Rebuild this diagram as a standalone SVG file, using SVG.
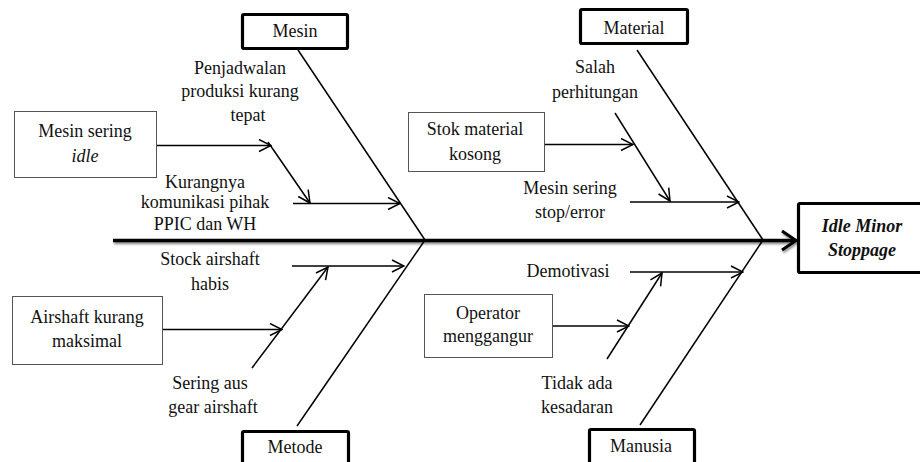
<svg xmlns="http://www.w3.org/2000/svg" width="920" height="462" viewBox="0 0 920 462">
<defs>
<style>
text{font-family:"Liberation Serif","Times New Roman",serif;font-size:18px;fill:#111;text-anchor:middle}
.cat{fill:#fff;stroke:#000;stroke-width:3.2}
.cause{fill:#fff;stroke:#555;stroke-width:1}
.bone{stroke:#000;stroke-width:1.5;fill:none}
.arr{stroke:#000;stroke-width:1.5;fill:none;marker-end:url(#a)}
</style>
<marker id="a" viewBox="0 0 14 14" refX="13" refY="7" markerWidth="14" markerHeight="14" markerUnits="userSpaceOnUse" orient="auto">
<path d="M1,1 L13,7 L1,13" fill="none" stroke="#000" stroke-width="1.5"/>
</marker>
<filter id="sh" x="-5%" y="-50%" width="110%" height="200%">
<feGaussianBlur in="SourceAlpha" stdDeviation="1.2"/>
<feOffset dx="1" dy="1.5" result="b"/>
<feComponentTransfer><feFuncA type="linear" slope="0.45"/></feComponentTransfer>
<feMerge><feMergeNode/><feMergeNode in="SourceGraphic"/></feMerge>
</filter>
</defs>
<rect width="920" height="462" fill="#fff"/>

<g id="connectors">
<g filter="url(#sh)">
<line x1="113" y1="240.5" x2="795" y2="240.5" stroke="#000" stroke-width="3.5"/>
<path d="M782,231 L796,240.5 L782,250" fill="none" stroke="#000" stroke-width="3"/>
</g>
<line class="bone" x1="298" y1="50" x2="425" y2="240"/>
<line class="bone" x1="425" y1="240" x2="297" y2="426"/>
<line class="bone" x1="637" y1="50" x2="763" y2="240"/>
<line class="bone" x1="763" y1="240" x2="640" y2="425"/>
<line class="arr" x1="157" y1="145.5" x2="271" y2="145.5"/>
<line class="arr" x1="268" y1="142" x2="310" y2="203"/>
<line class="arr" x1="293" y1="203.5" x2="400" y2="203.5"/>
<line class="arr" x1="545" y1="144.5" x2="633" y2="144.5"/>
<line class="arr" x1="615" y1="113" x2="670" y2="201"/>
<line class="arr" x1="630" y1="202" x2="739" y2="202"/>
<line class="arr" x1="292" y1="266" x2="404" y2="266"/>
<line class="arr" x1="252" y1="368" x2="328" y2="267"/>
<line class="arr" x1="163" y1="329.5" x2="282" y2="329.5"/>
<line class="arr" x1="630" y1="272" x2="743" y2="272"/>
<line class="arr" x1="607" y1="359" x2="662" y2="273"/>
<line class="arr" x1="553" y1="326" x2="629" y2="326"/>
</g>

<g id="mesin">
<rect class="cat" x="242.5" y="14.5" width="105" height="34" rx="1.5"/>
<text x="295" y="37">Mesin</text>
</g>
<g id="material">
<rect class="cat" x="580.5" y="9.5" width="107" height="34" rx="1.5"/>
<text x="634" y="34">Material</text>
</g>
<g id="metode">
<rect class="cat" x="242.5" y="431.5" width="106" height="36" rx="1.5"/>
<text x="295" y="453">Metode</text>
</g>
<g id="manusia">
<rect class="cat" x="589.5" y="429.5" width="105" height="36" rx="1.5"/>
<text x="641" y="452">Manusia</text>
</g>
<g id="effect">
<rect class="cat" x="798.5" y="203.5" width="125" height="69" rx="1.5"/>
<text x="862" y="232" style="font-weight:bold;font-style:italic">Idle Minor</text>
<text x="862" y="256" style="font-weight:bold;font-style:italic">Stoppage</text>
</g>

<g id="mesin-sering-idle">
<rect class="cause" x="14.5" y="111.5" width="142" height="66"/>
<text x="85" y="137">Mesin sering</text>
<text x="85" y="162" style="font-style:italic">idle</text>
</g>
<g id="penjadwalan">
<text x="240" y="74">Penjadwalan</text>
<text x="240" y="97">produksi kurang</text>
<text x="248" y="121">tepat</text>
</g>
<g id="kurangnya">
<text x="205" y="188">Kurangnya</text>
<text x="205" y="208">komunikasi pihak</text>
<text x="205" y="230">PPIC dan WH</text>
</g>

<g id="stok-material">
<rect class="cause" x="408.5" y="112.5" width="136" height="59"/>
<text x="475" y="135">Stok material</text>
<text x="475" y="160">kosong</text>
</g>
<g id="salah">
<text x="595" y="73">Salah</text>
<text x="595" y="98">perhitungan</text>
</g>
<g id="mesin-stop">
<text x="570" y="194">Mesin sering</text>
<text x="570" y="218">stop/error</text>
</g>

<g id="stock-airshaft">
<text x="210" y="265">Stock airshaft</text>
<text x="210" y="290">habis</text>
</g>
<g id="airshaft-kurang">
<rect class="cause" x="12.5" y="296.5" width="150" height="68"/>
<text x="87" y="323">Airshaft kurang</text>
<text x="87" y="347">maksimal</text>
</g>
<g id="sering-aus">
<text x="210" y="389">Sering aus</text>
<text x="213" y="413">gear airshaft</text>
</g>

<g id="demotivasi">
<text x="568" y="277">Demotivasi</text>
</g>
<g id="operator">
<rect class="cause" x="424.5" y="294.5" width="128" height="63"/>
<text x="488" y="319">Operator</text>
<text x="488" y="342">menggangur</text>
</g>
<g id="tidak-ada">
<text x="577" y="389">Tidak ada</text>
<text x="577" y="413">kesadaran</text>
</g>
</svg>
